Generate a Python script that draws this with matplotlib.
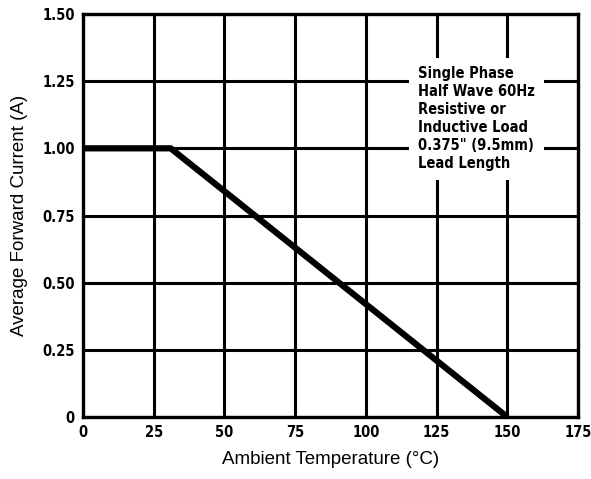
import numpy as np
import matplotlib.pyplot as plt
from matplotlib import font_manager

# derating curve: average forward current vs ambient temperature
temp = [0, 31, 150]
current = [1.0, 1.0, 0.0]

x_ticks = [0, 25, 50, 75, 100, 125, 150, 175]
y_ticks = [0, 0.25, 0.50, 0.75, 1.00, 1.25, 1.50]
y_labels = ["0", "0.25", "0.50", "0.75", "1.00", "1.25", "1.50"]

note = ("Single Phase\nHalf Wave 60Hz\nResistive or\n"
        "Inductive Load\n0.375\" (9.5mm)\nLead Length")

# condensed face for the small print, if one is there
cond = [f for f in font_manager.fontManager.ttflist
        if f.name == "DejaVu Sans" and "ondensed" in f.fname and "Bold" in f.fname]
narrow = font_manager.FontProperties(fname=cond[0].fname) if cond else None

fig = plt.figure(figsize=(5.91, 4.79), dpi=100)
ax = fig.add_axes([83 / 591, 1 - 417 / 479, 495 / 591, 403 / 479])

ax.set_xlim(0, 175)
ax.set_ylim(0, 1.5)
ax.set_xticks(x_ticks)
ax.set_yticks(y_ticks)
ax.set_yticklabels(y_labels)
ax.grid(True, color="black", linewidth=2.2)
ax.set_axisbelow(True)
for s in ax.spines.values():
    s.set_linewidth(2.4)

ax.tick_params(length=0, pad=6)
for lab in ax.get_xticklabels() + ax.get_yticklabels():
    if narrow is not None:
        lab.set_fontproperties(narrow)
    lab.set_fontsize(10.5)

ax.plot(temp, current, color="black", linewidth=4.5, solid_capstyle="butt",
        clip_on=False, zorder=3)

t = ax.text(0.677, 0.87, note, transform=ax.transAxes, ha="left", va="top",
            linespacing=1.25,
            bbox=dict(facecolor="white", edgecolor="none", pad=6), zorder=4)
if narrow is not None:
    t.set_fontproperties(narrow)
t.set_fontsize(10.5)

ax.set_xlabel("Ambient Temperature (°C)", fontsize=13.5, family="Liberation Sans",
              labelpad=8)
ax.set_ylabel("Average Forward Current (A)", fontsize=13.5, family="Liberation Sans",
              labelpad=10)

fig.savefig("out.png", dpi=100)
